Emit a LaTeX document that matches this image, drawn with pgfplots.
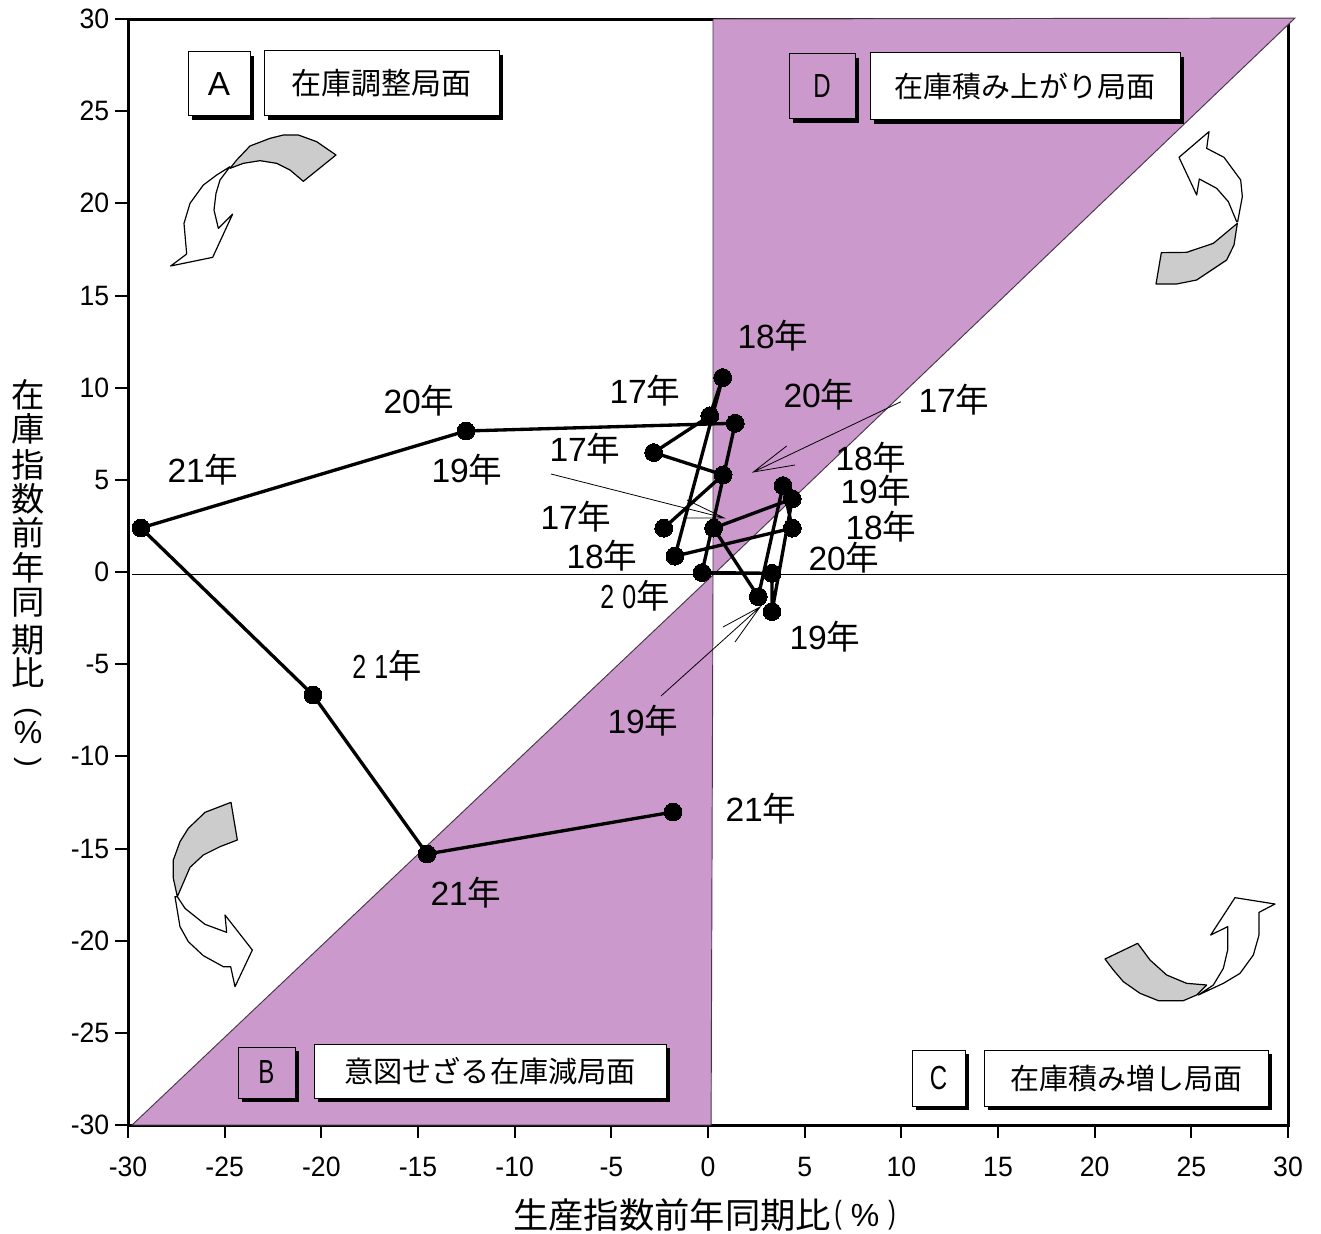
\documentclass[border=0pt]{standalone}
\usepackage{fontspec}
\usepackage{pgfplots}
\pgfplotsset{compat=1.18}
\setmainfont{Liberation Sans}
\newfontfamily\tickf{Liberation Sans}[FakeStretch=0.95]
\newfontfamily\cjk{Noto Sans CJK JP}
\newcommand{\yr}[1]{\fontsize{25.2}{27}\selectfont #1{\cjk 年}}
\newcommand{\bx}[1]{\fontsize{#1}{24}\selectfont\cjk}
\newcommand{\narrowlet}[1]{\fontsize{25}{27}\selectfont\scalebox{0.72}[1]{#1}}
\definecolor{pur}{HTML}{CC99CC}
\pgfplotstableread{
x y
-2.29 2.38
0.78 5.27
-2.81 6.48
0.09 8.47
0.76 10.55
-1.71 0.86
4.36 2.38
3.88 4.69
2.60 -1.34
0.29 2.38
4.36 3.97
3.31 -2.15
3.31 -0.07
-0.31 -0.03
1.41 8.07
-12.52 7.65
-29.33 2.39
-20.43 -6.67
-14.53 -15.30
-1.81 -13.02
}\pathdata
\begin{document}
\begin{tikzpicture}
\path[use as bounding box] (0,0) rectangle (990.75pt,-925.5pt);
\begin{axis}[
  at={(96pt,-843.75pt)}, anchor=south west,
  scale only axis, width=870pt, height=829.5pt,
  xmin=-30, xmax=30, ymin=-30, ymax=30,
  xtick={-30,-25,...,30}, ytick={-30,-25,...,30},
  xtick pos=bottom, ytick pos=left,
  tick align=outside,
  major tick length=9.5pt,
  tick style={black, line width=1.5pt},
  axis line style={line width=2.25pt},
  clip=false,
  /pgf/number format/assume math mode=true,
  tick label style={font=\tickf\fontsize{21}{23}\selectfont},
  xticklabel style={yshift=-11pt},
  yticklabel style={xshift=-1pt},
]
\addplot[fill=pur, draw=pur!35!black, line width=0.7pt] coordinates {(0.26,30) (30.36,30.05) (0.26,-0.16) (0.26,30)};
\addplot[fill=pur, draw=pur!35!black, line width=0.7pt] coordinates {(0.26,-0.16) (-29.79,-30) (0.16,-30) (0.26,-0.16)};
\addplot[black, line width=0.75pt] coordinates {(-29.79,-0.16) (30,-0.16)};
\addplot[black, line width=2.5pt, mark=*, mark size=6.7pt, mark options={fill=black, line width=0pt}] table[x=x,y=y] {\pathdata};
\end{axis}
\begin{scope}[x=.75pt,y=-.75pt]
% year labels
\foreach \t/\a/\b in {18/773/336,17/645/391,20/419/401,20/819/395,17/954/400,17/585/449,18/871/458,19/467/470,21/203/470,19/876/491,17/576/517,18/881/527,18/602/556,20/844/558,19/825/637,19/643/721,21/761/809,21/466/893}
  \node[inner sep=0pt] at (\a,\b) {\yr{\t}};
\node[inner sep=0pt] at (635,596) {\fontsize{25}{27}\selectfont\scalebox{0.75}[1]{2\,\,0}{\cjk 年}};
\node[inner sep=0pt] at (387,666) {\fontsize{25}{27}\selectfont\scalebox{0.75}[1]{2\,\,1}{\cjk 年}};
% thin arrows
\draw[line width=.6pt] (901,401.7) -- (753.3,472) (786.7,446) -- (753.3,472) -- (795,465);
\draw[line width=.6pt] (551,474) -- (724.3,518) (687,500) -- (724.3,518) -- (683,518);
\draw[line width=.6pt] (661,696) -- (760,607) (723,627) -- (760,607) -- (735,642);
% label boxes
\newcommand{\lbox}[6]{%
  \fill[black] (#1+4,#2+4) rectangle (#3+4,#4+4);
  \draw[fill=#5, line width=.75pt] (#1,#2) rectangle (#3,#4);
  \node[inner sep=0pt] at ({(#1+#3)/2},{(#2+#4)/2}) {#6};}
\lbox{188}{52}{250}{116}{white}{\fontsize{25}{27}\selectfont A}
\lbox{264}{51}{499}{116}{white}{\bx{22.5}在庫調整局面}
\lbox{789}{54}{855}{119}{pur}{\narrowlet{D}}
\lbox{870}{53}{1180}{120}{white}{\bx{21.75}在庫積み上がり局面}
\lbox{238}{1047}{295}{1098}{pur}{\narrowlet{B}}
\lbox{314}{1044}{666}{1098}{white}{\bx{21.9}意図せざる在庫減局面}
\lbox{912}{1050}{965}{1106}{white}{\narrowlet{C}}
\lbox{984}{1050}{1268}{1106}{white}{\bx{21.75}在庫積み増し局面}
% curved block arrows
\begin{scope}[shift={(130,20)},x=.25pt,y=-.25pt,line width=.9pt,line join=round]
\draw[fill=white] (300,440)--(270,480)--(258,520)--(252,570)--(265,625)--(308,582)--(248,712)--(122,738)--(170,702)--(162,610)--(180,550)--(220,495)--(260,465)--cycle;
\draw[fill=black!20] (618,405)--(520,484)--(480,450)--(440,430)--(390,422)--(340,430)--(300,445)--(320,420)--(360,378)--(420,355)--(460,345)--(505,345)--(560,365)--cycle;
\end{scope}
\begin{scope}[shift={(1080,120)},x=.25pt,y=-.25pt,line width=.9pt,line join=round]
\draw[fill=white] (470,305)--(445,245)--(410,205)--(358,177)--(350,225)--(297,112)--(387,35)--(380,85)--(432,112)--(482,180)--(487,230)--(473,305)--cycle;
\draw[fill=black!20] (244,398)--(228,492)--(290,492)--(350,480)--(395,450)--(440,420)--(462,375)--(472,310)--(430,345)--(400,370)--(320,397)--cycle;
\end{scope}
\begin{scope}[shift={(130,790)},x=.25pt,y=-.25pt,line width=.9pt,line join=round]
\draw[fill=white] (142,320)--(165,355)--(225,403)--(290,427)--(285,375)--(367,480)--(315,590)--(302,530)--(280,530)--(220,497)--(175,455)--(150,410)--(135,320)--cycle;
\draw[fill=black!20] (303,37)--(322,150)--(270,170)--(220,195)--(180,232)--(142,320)--(130,265)--(130,210)--(150,155)--(175,115)--(225,67)--cycle;
\end{scope}
\begin{scope}[shift={(1090,885)},x=.25pt,y=-.25pt,line width=.9pt,line join=round]
\draw[fill=white] (325,330)--(370,300)--(400,250)--(413,195)--(413,125)--(362,150)--(435,38)--(555,57)--(507,82)--(507,150)--(490,210)--(450,265)--(400,295)--cycle;
\draw[fill=black!20] (45,222)--(143,175)--(180,225)--(230,270)--(290,295)--(350,300)--(320,330)--(280,347)--(205,347)--(150,325)--(100,290)--(70,255)--cycle;
\end{scope}
% axis titles
\node[inner sep=0pt,anchor=west] at (513,1215) {\fontsize{26.5}{28}\selectfont\cjk 生産指数前年同期比};
\node[inner sep=0pt] at (838,1215) {\fontsize{24}{26}\selectfont\scalebox{.7}[1]{(}};
\node[inner sep=0pt] at (865,1215) {\fontsize{24}{26}\selectfont \%};
\node[inner sep=0pt] at (892,1215) {\fontsize{24}{26}\selectfont\scalebox{.7}[1]{)}};
\foreach \c/\yy in {在/395,庫/429,指/465,数/499,前/533,年/568,同/603,期/640,比/673}
  \node[inner sep=0pt] at (28,\yy) {\fontsize{25}{27}\selectfont\cjk \c};
\node[inner sep=0pt,rotate=-90] at (28,712) {\fontsize{22}{24}\selectfont (};
\node[inner sep=0pt] at (28,732) {\fontsize{24}{26}\selectfont \%};
\node[inner sep=0pt,rotate=-90] at (28,762) {\fontsize{22}{24}\selectfont )};
\end{scope}
\end{tikzpicture}
\end{document}
